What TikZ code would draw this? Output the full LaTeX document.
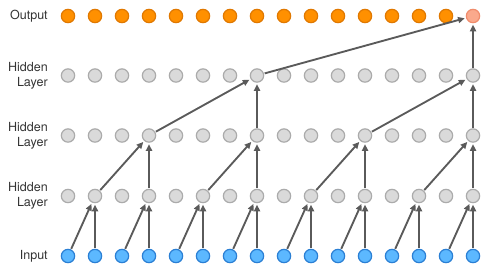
\documentclass[tikz,border=0pt]{standalone}
\usepackage{fontspec}
\setmainfont{TeX Gyre Heros}
\usetikzlibrary{arrows.meta}
\definecolor{ofill}{HTML}{FF9000}
\definecolor{oline}{HTML}{E07800}
\definecolor{lofill}{HTML}{FAA98C}
\definecolor{loline}{HTML}{F08C6C}
\definecolor{gfill}{HTML}{DADADA}
\definecolor{gline}{HTML}{ABABAB}
\definecolor{bfill}{HTML}{5CB8FF}
\definecolor{bline}{HTML}{2A7FD4}
\definecolor{acol}{HTML}{5A5A5A}
\tikzset{
  unit/.style={circle,minimum size=10pt,inner sep=0pt,line width=0.9pt},
  outn/.style={unit,draw=oline,fill=ofill},
  outlast/.style={unit,draw=loline,fill=lofill},
  hidn/.style={unit,draw=gline,fill=gfill},
  inn/.style={unit,draw=bline,fill=bfill},
  lbl/.style={anchor=east,align=right,inner sep=0pt,font=\fontsize{9.4}{11.3}\selectfont,text=black!80},
  conn/.style={draw=acol,line width=1.4pt,-{Triangle[length=5pt,width=4.5pt]},shorten >=1pt,shorten <=0.5pt}
}
\begin{document}
\begin{tikzpicture}[x=0.75pt,y=-0.75pt]
\useasboundingbox (0,0) rectangle (491,273);
% labels
\node[lbl] (lout) at (48,16) {Output};
\node[lbl] (lh3) at (48,75.5) {Hidden\\Layer};
\node[lbl] (lh2) at (48,135.5) {Hidden\\Layer};
\node[lbl] (lh1) at (48,196) {Hidden\\Layer};
\node[lbl] (lin) at (48,256) {Input};
% nodes
\foreach \i in {0,...,15}{
  \pgfmathsetmacro\xx{68+27*\i}
  \ifnum\i<15
    \node[outn] (out\i) at (\xx,16) {};
  \else
    \node[outlast] (out\i) at (\xx,16) {};
  \fi
  \node[hidn] (hc\i) at (\xx,75.5) {};
  \node[hidn] (hb\i) at (\xx,135.5) {};
  \node[hidn] (ha\i) at (\xx,196) {};
  \node[inn] (in\i) at (\xx,256) {};
}
% input -> hidden 1
\foreach \k in {0,...,7}{
  \pgfmathtruncatemacro\a{2*\k}
  \pgfmathtruncatemacro\b{2*\k+1}
  \draw[conn] (in\a) -- (ha\b);
  \draw[conn] (in\b) -- (ha\b);
}
% hidden 1 -> hidden 2
\foreach \k in {0,...,3}{
  \pgfmathtruncatemacro\a{4*\k+1}
  \pgfmathtruncatemacro\b{4*\k+3}
  \draw[conn] (ha\a) -- (hb\b);
  \draw[conn] (ha\b) -- (hb\b);
}
% hidden 2 -> hidden 3
\foreach \k in {0,1}{
  \pgfmathtruncatemacro\a{8*\k+3}
  \pgfmathtruncatemacro\b{8*\k+7}
  \draw[conn] (hb\a) -- (hc\b);
  \draw[conn] (hb\b) -- (hc\b);
}
% hidden 3 -> output
\draw[conn] (hc7) -- (out15);
\draw[conn] (hc15) -- (out15);
\end{tikzpicture}
\end{document}
